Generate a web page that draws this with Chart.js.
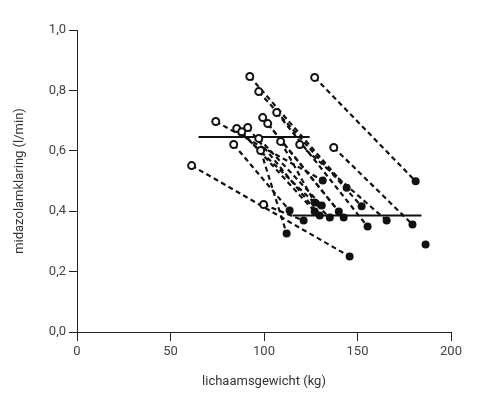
<!DOCTYPE html>
<html>
<head>
<meta charset="utf-8">
<script src="https://cdn.jsdelivr.net/npm/chart.js@4"></script>
<style>
  body { margin: 0; background: #fff; }
</style>
</head>
<body>
<canvas id="chart" width="483" height="394"></canvas>
<script>
// before (open circles) and after (filled circles), paired by index
const weightBefore = [92.4, 127.1, 97.2, 106.8, 99.3, 74.2, 102.0, 85.4, 91.3, 88.1, 97.2, 83.8, 108.9, 119.1, 137.3, 61.3, 99.8, 98.2];
const clearanceBefore = [0.846, 0.843, 0.796, 0.727, 0.710, 0.697, 0.690, 0.674, 0.677, 0.663, 0.641, 0.621, 0.631, 0.621, 0.611, 0.551, 0.422, 0.601];
const weightAfter = [144.2, 181.1, 152.2, 155.4, 140.0, 131.4, 142.6, 135.2, 129.8, 127.1, 130.9, 113.7, 127.1, 165.6, 179.4, 145.8, 121.2, 112.1, 186.4];
const clearanceAfter = [0.478, 0.499, 0.416, 0.349, 0.399, 0.502, 0.379, 0.379, 0.386, 0.399, 0.419, 0.402, 0.429, 0.369, 0.356, 0.250, 0.369, 0.326, 0.290];

// group means (horizontal lines)
const meanBeforeRange = [65, 124.4];
const meanBefore = 0.646;
const meanAfterRange = [115.2, 184.2];
const meanAfter = 0.386;

const xTicks = [0, 50, 100, 150, 200];
const yTicks = [0, 0.2, 0.4, 0.6, 0.8, 1.0];

const toPoints = (xs, ys) => xs.map((x, i) => ({ x: x, y: ys[i] }));

const datasets = [];

datasets.push({
    data: toPoints(weightBefore, clearanceBefore),
    pointRadius: 3.5,
    pointBorderWidth: 2,
    pointBackgroundColor: '#fff',
    pointBorderColor: '#111',
    order: 0
});
datasets.push({
    data: toPoints(weightAfter, clearanceAfter),
    pointRadius: 4,
    pointBorderWidth: 0,
    pointBackgroundColor: '#111',
    pointBorderColor: '#111',
    order: 0
});

// dashed connectors for each patient
weightBefore.forEach((w, i) => {
    datasets.push({
        data: [{ x: w, y: clearanceBefore[i] }, { x: weightAfter[i], y: clearanceAfter[i] }],
        showLine: true,
        borderColor: '#111',
        borderWidth: 2.2,
        borderDash: [5, 3.5],
        pointRadius: 0,
        order: 2
    });
});

// mean lines
[[meanBeforeRange, meanBefore], [meanAfterRange, meanAfter]].forEach(([range, m]) => {
    datasets.push({
        data: range.map(x => ({ x: x, y: m })),
        showLine: true,
        borderColor: '#111',
        borderWidth: 2,
        pointRadius: 0,
        order: 1
    });
});

const font = { family: 'Roboto', size: 13 };

new Chart(document.getElementById('chart'), {
    type: 'scatter',
    data: { datasets: datasets },
    options: {
        responsive: false,
        animation: false,
        layout: { padding: { top: 30, right: 32, left: 0, bottom: 0 } },
        plugins: { legend: { display: false }, tooltip: { enabled: false } },
        scales: {
            x: {
                type: 'linear',
                min: 0,
                max: 200,
                afterBuildTicks: scale => { scale.ticks = xTicks.map(v => ({ value: v })); },
                afterFit: scale => { scale.height = 62; },
                grid: { display: true, drawOnChartArea: false, drawTicks: true, tickLength: 9, color: '#222', lineWidth: 1 },
                border: { display: true, color: '#222', width: 1 },
                ticks: { color: '#444', font: font, padding: 3, maxRotation: 0 },
                title: { display: true, text: 'lichaamsgewicht (kg)', color: '#333', font: font, padding: { top: 0, bottom: 4 } }
            },
            y: {
                type: 'linear',
                min: 0,
                max: 1,
                afterBuildTicks: scale => { scale.ticks = yTicks.map(v => ({ value: v })); },
                afterFit: scale => { scale.width = 77; },
                grid: { display: true, drawOnChartArea: false, drawTicks: true, tickLength: 8, color: '#222', lineWidth: 1 },
                border: { display: true, color: '#222', width: 1 },
                ticks: { color: '#444', font: font, padding: 3, callback: v => v.toFixed(1).replace('.', ',') },
                title: { display: true, text: 'midazolamklaring (l/min)', color: '#333', font: font, padding: { top: 12, bottom: 0 } }
            }
        }
    }
});
</script>
</body>
</html>
